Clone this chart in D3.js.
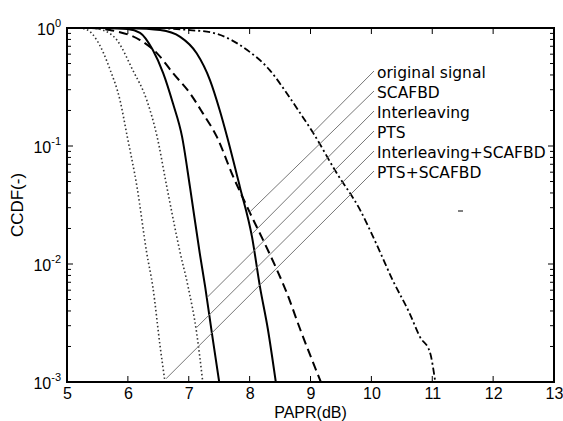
<!DOCTYPE html>
<html>
<head>
<meta charset="utf-8">
<script src="https://cdn.jsdelivr.net/npm/d3@7"></script>
<style>
  body { margin: 0; background: #fff; overflow: hidden; }
  .chart { width: 563px; height: 421px; }
  text { font-family: "Liberation Sans", Arial, sans-serif; }
</style>
</head>
<body>
<div class="chart"></div>
<script>
// CCDF of PAPR, one pair of arrays per curve
const paprOriginal = [6.5, 7.02, 7.40, 7.96, 8.33, 8.61, 8.83, 9.04, 9.43, 9.81, 10.09, 10.35, 10.63, 10.80, 10.96, 11.05];
const ccdfOriginal = [1, 0.96, 0.91, 0.65, 0.44, 0.28, 0.19, 0.13, 0.059, 0.029, 0.0145, 0.0073, 0.0038, 0.0024, 0.0018, 0.001];

const paprScafbd = [5.4, 5.71, 6.2, 6.48, 6.74, 7.02, 7.23, 7.46, 7.73, 8.00, 8.22, 8.45, 8.61, 8.83, 9.17];
const ccdfScafbd = [1, 0.96, 0.79, 0.61, 0.415, 0.28, 0.19, 0.12, 0.055, 0.0275, 0.016, 0.0089, 0.0057, 0.0028, 0.001];

const paprInterleaving = [6.0, 6.53, 6.86, 7.13, 7.35, 7.51, 7.63, 7.84, 8.04, 8.17, 8.30, 8.43];
const ccdfInterleaving = [1, 0.96, 0.84, 0.61, 0.36, 0.20, 0.12, 0.045, 0.0169, 0.0064, 0.0028, 0.001];

const paprPts = [5.6, 5.99, 6.2, 6.41, 6.58, 6.74, 6.89, 7.02, 7.18, 7.27, 7.38, 7.50];
const ccdfPts = [1, 0.98, 0.91, 0.65, 0.415, 0.23, 0.12, 0.045, 0.0124, 0.0064, 0.0026, 0.001];

const paprIntScafbd = [5.4, 5.59, 5.82, 6.08, 6.31, 6.48, 6.64, 6.86, 6.99, 7.13, 7.23];
const ccdfIntScafbd = [1, 0.96, 0.79, 0.44, 0.245, 0.12, 0.045, 0.0124, 0.0064, 0.0026, 0.001];

const paprPtsScafbd = [5.2, 5.34, 5.49, 5.71, 5.87, 5.99, 6.15, 6.31, 6.41, 6.53, 6.61];
const ccdfPtsScafbd = [1, 0.96, 0.79, 0.44, 0.245, 0.12, 0.045, 0.0124, 0.0064, 0.002, 0.001];

const labels = ['original signal', 'SCAFBD', 'Interleaving', 'PTS', 'Interleaving+SCAFBD', 'PTS+SCAFBD'];
// where each leader line touches its curve
const leaderPapr = [9.04, 8.00, 8.04, 7.30, 7.13, 6.63];
const leaderCcdf = [0.13, 0.0275, 0.018, 0.0052, 0.0029, 0.00107];

const xTicks = [5, 6, 7, 8, 9, 10, 11, 12, 13];
const yTicks = [1e-3, 1e-2, 1e-1, 1];
const yExps = ['-3', '-2', '-1', '0'];

const width = 563, height = 421;
const mL = 67, mT = 28, mR = 554, mB = 382;

const svg = d3.select('.chart').append('svg')
  .attr('width', width)
  .attr('height', height);

const x = d3.scaleLinear().domain([5, 13]).range([mL, mR]);
const y = d3.scaleLog().domain([1e-3, 1]).range([mB, mT]);

svg.append('clipPath').attr('id', 'clip')
  .append('rect')
  .attr('x', mL).attr('y', mT - 1)
  .attr('width', mR - mL).attr('height', mB - mT + 1);

// minor log ticks
const minor = [];
for (let e = -3; e < 0; e++) {
  for (let k = 2; k <= 9; k++) minor.push(k * Math.pow(10, e));
}

const tickG = svg.append('g').style('stroke', '#000').style('stroke-width', 1);
minor.forEach(v => {
  tickG.append('line').attr('x1', mL).attr('x2', mL + 4).attr('y1', y(v)).attr('y2', y(v));
  tickG.append('line').attr('x1', mR).attr('x2', mR - 4).attr('y1', y(v)).attr('y2', y(v));
});
yTicks.forEach(v => {
  tickG.append('line').attr('x1', mL).attr('x2', mL + 6).attr('y1', y(v)).attr('y2', y(v));
  tickG.append('line').attr('x1', mR).attr('x2', mR - 6).attr('y1', y(v)).attr('y2', y(v));
});
xTicks.forEach(v => {
  tickG.append('line').attr('x1', x(v)).attr('x2', x(v)).attr('y1', mB).attr('y2', mB - 6);
  tickG.append('line').attr('x1', x(v)).attr('x2', x(v)).attr('y1', mT).attr('y2', mT + 6);
});

// x tick labels through the axis generator
const xAxis = svg.append('g')
  .attr('transform', `translate(0,${mB})`)
  .call(d3.axisBottom(x).tickValues(xTicks).tickSize(0).tickPadding(6).tickFormat(d3.format('d')));
xAxis.select('.domain').remove();
xAxis.selectAll('text')
  .style('font-family', '"Liberation Sans", Arial, sans-serif')
  .style('font-size', '16px')
  .attr('fill', '#000');

// y tick labels 10^n
const yAxis = svg.append('g')
  .attr('transform', `translate(${mL},0)`)
  .call(d3.axisLeft(y).tickValues(yTicks).tickSize(0).tickPadding(6).tickFormat(() => ''));
yAxis.select('.domain').remove();
yAxis.selectAll('text')
  .attr('dy', '0.42em')
  .style('font-family', '"Liberation Sans", Arial, sans-serif')
  .style('font-size', '16px')
  .attr('fill', '#000')
  .each(function(d, i) {
    const t = d3.select(this);
    t.append('tspan').text('10');
    t.append('tspan').text(yExps[i]).attr('dy', -8).style('font-size', '11px');
  });

// curves
const line = d3.line()
  .x(d => x(d[0]))
  .y(d => y(d[1]))
  .curve(d3.curveMonotoneX);

const zipped = (a, b) => a.map((v, i) => [v, b[i]]);

const curves = [
  { xs: paprOriginal, ys: ccdfOriginal, dash: '7,3,2,3', w: 1.8, c: '#000' },
  { xs: paprScafbd, ys: ccdfScafbd, dash: '9,5', w: 2, c: '#000' },
  { xs: paprInterleaving, ys: ccdfInterleaving, dash: null, w: 2, c: '#000' },
  { xs: paprPts, ys: ccdfPts, dash: null, w: 2, c: '#000' },
  { xs: paprIntScafbd, ys: ccdfIntScafbd, dash: '1.5,2.5', w: 1.6, c: '#333' },
  { xs: paprPtsScafbd, ys: ccdfPtsScafbd, dash: '1.5,2.5', w: 1.6, c: '#333' }
];

const plot = svg.append('g').attr('clip-path', 'url(#clip)');
curves.forEach(s => {
  plot.append('path')
    .datum(zipped(s.xs, s.ys))
    .attr('d', line)
    .attr('fill', 'none')
    .attr('stroke', s.c)
    .attr('stroke-width', s.w)
    .attr('stroke-dasharray', s.dash);
});

// labels and leader lines
labels.forEach((name, i) => {
  const ly = 78 + i * 20;
  svg.append('line')
    .attr('x1', 374).attr('y1', ly - 7)
    .attr('x2', x(leaderPapr[i])).attr('y2', y(leaderCcdf[i]))
    .style('stroke', '#777')
    .style('stroke-width', 1);
  svg.append('text')
    .attr('x', 377).attr('y', ly)
    .style('font-family', '"DejaVu Sans", sans-serif')
    .style('font-size', '15.5px')
    .text(name);
});

// small stray mark in the original
svg.append('line')
  .attr('x1', 458).attr('x2', 463).attr('y1', 211).attr('y2', 211)
  .style('stroke', '#000');

// frame
svg.append('rect')
  .attr('x', mL).attr('y', mT)
  .attr('width', mR - mL).attr('height', mB - mT)
  .attr('fill', 'none')
  .style('stroke', '#000')
  .style('stroke-width', 2);

// axis titles
svg.append('text')
  .attr('x', (mL + mR) / 2).attr('y', 417.5)
  .attr('text-anchor', 'middle')
  .style('font-size', '16px')
  .text('PAPR(dB)');

svg.append('text')
  .attr('transform', `translate(23,${(mT + mB) / 2}) rotate(-90)`)
  .attr('text-anchor', 'middle')
  .style('font-size', '17px')
  .text('CCDF(-)');
</script>
</body>
</html>
